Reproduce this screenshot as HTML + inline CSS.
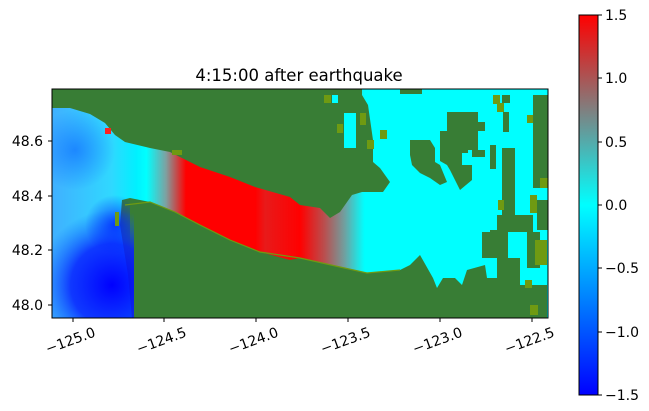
<!DOCTYPE html>
<html><head><meta charset="utf-8"><style>
html,body{margin:0;padding:0;background:#fff;}
svg{display:block;font-family:"DejaVu Sans","Liberation Sans",sans-serif;}
</style></head><body>
<svg width="649" height="411" viewBox="0 0 649 411" xmlns="http://www.w3.org/2000/svg">
<defs>
<linearGradient id="wg" gradientUnits="userSpaceOnUse" x1="52" y1="0" x2="548" y2="0">
<stop offset="0" stop-color="#40b0ff"/>
<stop offset="0.12" stop-color="#30d8ff"/>
<stop offset="0.17" stop-color="#00f0ff"/>
<stop offset="0.19" stop-color="#00ffff"/>
<stop offset="0.23" stop-color="#7fa0a0"/>
<stop offset="0.27" stop-color="#ff0000"/>
<stop offset="0.41" stop-color="#ff0000"/>
<stop offset="0.43" stop-color="#e81a1a"/>
<stop offset="0.50" stop-color="#ff0000"/>
<stop offset="0.55" stop-color="#b85050"/>
<stop offset="0.59" stop-color="#70a0a0"/>
<stop offset="0.63" stop-color="#00ffff"/>
<stop offset="1" stop-color="#00ffff"/>
</linearGradient>
<radialGradient id="bl" gradientUnits="userSpaceOnUse" cx="112" cy="285" r="75">
<stop offset="0" stop-color="#0000ff"/>
<stop offset="0.55" stop-color="#0820ff" stop-opacity="0.85"/>
<stop offset="1" stop-color="#0a60ff" stop-opacity="0"/>
</radialGradient>
<radialGradient id="bl2" gradientUnits="userSpaceOnUse" cx="75" cy="150" r="40">
<stop offset="0" stop-color="#1070ff" stop-opacity="0.7"/>
<stop offset="1" stop-color="#1070ff" stop-opacity="0"/>
</radialGradient>
<radialGradient id="bl3" gradientUnits="userSpaceOnUse" cx="115" cy="225" r="30">
<stop offset="0" stop-color="#0020ff" stop-opacity="0.8"/>
<stop offset="1" stop-color="#0020ff" stop-opacity="0"/>
</radialGradient>
<linearGradient id="cb" x1="0" y1="1" x2="0" y2="0">
<stop offset="0" stop-color="#0000ff"/>
<stop offset="0.5" stop-color="#00ffff"/>
<stop offset="1" stop-color="#ff0000"/>
</linearGradient>
<clipPath id="ax"><rect x="52" y="89" width="496" height="229"/></clipPath>
</defs>
<text x="299" y="81" font-size="16.5" text-anchor="middle" fill="#000">4:15:00 after earthquake</text>
<g clip-path="url(#ax)">
<rect x="52" y="89" width="496" height="229" fill="#387d35"/>
<polygon fill="url(#wg)" points="52,108 70,108 90,114 105,123 115,135 125,142 150,148 170,152 200,167 230,177 255,187 290,197 300,205 320,208 330,218 340,212 352,195 362,192 383,192 390,182 385,175 380,168 373,162 373,140 368,105 362,95 362,89 548,89 548,318 497,318 497,278 487,278 485,265 467,270 462,285 455,278 443,278 437,288 433,278 420,255 410,265 400,270 367,273 340,267 300,258 290,260 260,252 230,240 200,225 175,212 150,202 130,198 122,200 120,225 124,250 128,275 132,318 52,318"/>
<rect x="52" y="200" width="82" height="118" fill="url(#bl)"/>
<rect x="52" y="105" width="70" height="90" fill="url(#bl2)"/>
<rect x="85" y="195" width="45" height="60" fill="url(#bl3)"/>
<rect x="344" y="113" width="12" height="35" fill="#00ffff"/>
<rect x="332" y="95" width="6" height="8" fill="#00ffff"/>
<g fill="#387d35">
<polygon points="447,112 478,112 478,122 485,122 485,131 478,131 478,150 485,150 485,157 472,157 472,150 462,150 462,165 472,165 472,180 460,190 455,180 450,170 447,165 440,161 440,131 447,131"/>
<polygon points="410,140 430,140 435,148 435,162 440,165 447,182 440,185 430,178 420,173 412,165 410,155"/>
<polygon points="502,148 515,148 515,215 533,215 533,232 508,232 508,258 520,258 520,305 513,305 513,285 547,285 547,318 497,318 497,258 482,258 482,232 497,232 497,215 502,215"/>
<rect x="527" y="232" width="13" height="36" />
<rect x="533" y="95" width="15" height="93"/>
<rect x="537" y="200" width="11" height="30"/>
<rect x="503" y="112" width="6" height="20"/>
<rect x="490" y="145" width="6" height="24"/>
<rect x="502" y="95" width="8" height="8"/>
<rect x="460" y="145" width="8" height="8"/>
<rect x="400" y="89" width="22" height="5"/>
<rect x="490" y="230" width="8" height="20"/>
</g>
<g fill="#6f9a12">
<rect x="493" y="95" width="7" height="9"/><rect x="497" y="103" width="7" height="9"/>
<rect x="527" y="115" width="6" height="8"/><rect x="535" y="240" width="12" height="25"/>
<rect x="530" y="195" width="7" height="18"/><rect x="525" y="280" width="7" height="8"/>
<rect x="530" y="305" width="8" height="10"/><rect x="360" y="113" width="6" height="12"/>
<rect x="337" y="124" width="6" height="9"/><rect x="367" y="140" width="7" height="9"/>
<rect x="380" y="130" width="7" height="9"/><rect x="324" y="95" width="7" height="8"/>
<rect x="498" y="200" width="6" height="10"/>
<rect x="540" y="178" width="8" height="10"/><rect x="115" y="212" width="4" height="14"/>
<rect x="172" y="150" width="10" height="5"/><rect x="105" y="128" width="6" height="6" fill="#ff2020"/>
</g>
<polyline points="125,205 150,202 175,212 200,225 230,240 260,252 300,258 340,267 367,273 400,270" fill="none" stroke="#6f9a12" stroke-width="1.2"/>
</g>
<rect x="52" y="89" width="496" height="229" fill="none" stroke="#000" stroke-width="1"/>
<g stroke="#000" stroke-width="1">
<line x1="73" y1="318" x2="73" y2="322"/><line x1="164" y1="318" x2="164" y2="322"/>
<line x1="256" y1="318" x2="256" y2="322"/><line x1="348" y1="318" x2="348" y2="322"/>
<line x1="440" y1="318" x2="440" y2="322"/><line x1="532" y1="318" x2="532" y2="322"/>
<line x1="52" y1="141" x2="48" y2="141"/><line x1="52" y1="196" x2="48" y2="196"/>
<line x1="52" y1="250" x2="48" y2="250"/><line x1="52" y1="305" x2="48" y2="305"/>
</g>
<g font-size="14" fill="#000" text-anchor="end">
<text x="43" y="146">48.6</text><text x="43" y="201">48.4</text>
<text x="43" y="255">48.2</text><text x="43" y="310">48.0</text>
</g>
<g font-size="14" fill="#000" text-anchor="middle">
<text transform="translate(72,345) rotate(-20)">−125.0</text>
<text transform="translate(163,345) rotate(-20)">−124.5</text>
<text transform="translate(255,345) rotate(-20)">−124.0</text>
<text transform="translate(347,345) rotate(-20)">−123.5</text>
<text transform="translate(439,345) rotate(-20)">−123.0</text>
<text transform="translate(531,345) rotate(-20)">−122.5</text>
</g>
<rect x="579" y="15" width="19" height="380" fill="url(#cb)" stroke="#000" stroke-width="1"/>
<g stroke="#000" stroke-width="1">
<line x1="598" y1="15" x2="602" y2="15"/><line x1="598" y1="78" x2="602" y2="78"/>
<line x1="598" y1="142" x2="602" y2="142"/><line x1="598" y1="205" x2="602" y2="205"/>
<line x1="598" y1="268" x2="602" y2="268"/><line x1="598" y1="332" x2="602" y2="332"/>
<line x1="598" y1="395" x2="602" y2="395"/>
</g>
<g font-size="14" fill="#000">
<text x="605" y="20">1.5</text><text x="605" y="83">1.0</text>
<text x="605" y="147">0.5</text><text x="605" y="210">0.0</text>
<text x="605" y="273">−0.5</text><text x="605" y="337">−1.0</text>
<text x="605" y="400">−1.5</text>
</g>
</svg>
</body></html>
